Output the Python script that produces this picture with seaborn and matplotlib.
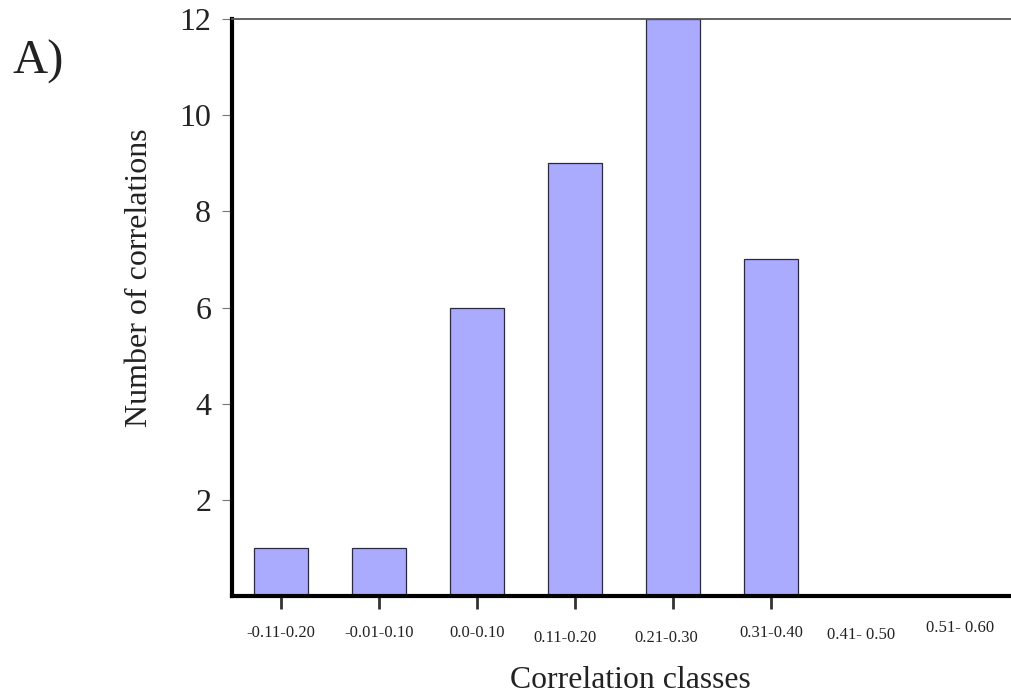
import matplotlib
matplotlib.use("Agg")
import matplotlib.pyplot as plt
import matplotlib.transforms as mtransforms
import seaborn as sns
import pandas as pd

# Correlation class bins and number of correlations in each
classes = ["-0.11-0.20", "-0.01-0.10", "0.0-0.10", "0.11-0.20",
           "0.21-0.30", "0.31-0.40", "0.41- 0.50", "0.51- 0.60"]
counts = [1, 1, 6, 9, 12, 7, 0, 0]
y_ticks = [2, 4, 6, 8, 10, 12]
# small nudges (points) of individual class labels
label_dy = [0, 0, 0, -3, -3, 0, -1, 4]
label_dx = [0, 0, 0, -7, -5, 0, -6, -5]

sns.set_theme(style="white")
plt.rcParams["font.family"] = ["Liberation Serif", "DejaVu Serif"]

df = pd.DataFrame({"cls": classes, "n": counts})

fig = plt.figure(figsize=(10.11, 6.99), dpi=100)
ax = fig.add_axes([0.2295, 0.147, 0.7705, 0.826])

sns.barplot(data=df, x="cls", y="n", order=classes, color="#AAAAFF",
            saturation=1, width=0.56, edgecolor="#2a2a40", linewidth=0.9,
            ax=ax)

ax.set_xlim(-0.5, 7.45)
ax.set_ylim(0, 12)
ax.set_yticks(y_ticks)
ax.set_yticklabels([str(v) for v in y_ticks], fontsize=23, color="#222222")

for s in ["left", "bottom"]:
    ax.spines[s].set_color("black")
    ax.spines[s].set_linewidth(3)
ax.spines["top"].set_color("#555555")
ax.spines["top"].set_linewidth(1.3)
ax.spines["right"].set_visible(False)

ax.tick_params(axis="y", direction="out", length=7, width=0.8, color="#777777",
               left=True, pad=8)
ax.tick_params(axis="x", direction="out", length=9, width=2, color="#333333",
               bottom=True, pad=12)
ax.set_xticklabels(classes, fontsize=12, color="#222222")
for i, tick in enumerate(ax.xaxis.get_major_ticks()):
    if counts[i] == 0:
        tick.tick1line.set_visible(False)
for lab, dx, dy in zip(ax.get_xticklabels(), label_dx, label_dy):
    lab.set_transform(lab.get_transform() +
                      mtransforms.ScaledTranslation(dx / 72, dy / 72, fig.dpi_scale_trans))

ax.set_xlabel("Correlation classes", fontsize=22.9, color="#222222")
ax.set_ylabel("Number of correlations", fontsize=23, color="#222222")
ax.xaxis.set_label_coords(0.511, -0.121)
ax.yaxis.set_label_coords(-0.1, 0.551)

fig.text(0.012, 0.895, "A)", fontsize=35, color="#222222")

fig.savefig("out.png", dpi=100)
